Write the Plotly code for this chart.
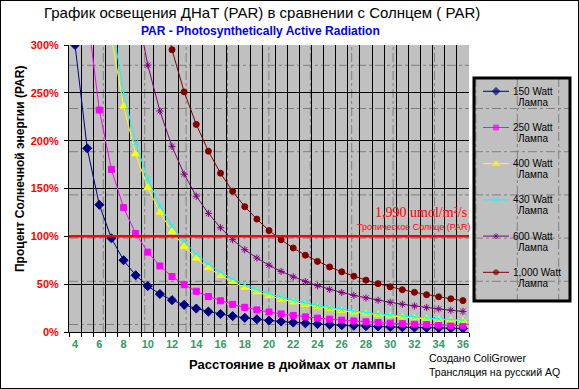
import plotly.graph_objects as go

# ---------------- data ----------------
DIST = list(range(4, 37))                      # inches from lamp
X_TICKS = list(range(4, 37, 2))
X_TICK_LABELS = [str(v) for v in X_TICKS]
Y_TICKS = [0, 50, 100, 150, 200, 250, 300]
Y_TICK_LABELS = [f"{v}%" for v in Y_TICKS]

P150 = [300, 192, 133, 98, 75, 59.3, 48, 39.7, 33.3, 28.4, 24.5, 21.3, 18.8, 16.6, 14.8, 13.3,
        12.0, 10.9, 9.9, 9.1, 8.3, 7.7, 7.1, 6.6, 6.1, 5.7, 5.3, 5.0, 4.7, 4.4, 4.2, 3.9, 3.7]
P250 = [None, 334, 232, 170, 130, 103, 83.5, 69, 58, 49.4, 42.6, 37.1, 32.6, 28.9, 25.8, 23.1,
        20.9, 18.9, 17.3, 15.8, 14.5, 13.4, 12.4, 11.5, 10.7, 9.9, 9.3, 8.7, 8.2, 7.7, 7.2, 6.8, 6.4]
P400 = [None, None, None, 308, 236, 186, 151, 125, 105, 89.3, 77, 67.1, 59, 52.2, 46.6, 41.8,
        37.8, 34.2, 31.2, 28.5, 26.2, 24.2, 22.3, 20.7, 19.3, 18, 16.8, 15.7, 14.7, 13.9, 13.1, 12.3, 11.7]
P430 = [None, None, None, 327, 250, 198, 160, 132, 111, 94.7, 81.6, 71.1, 62.5, 55.4, 49.4, 44.3,
        40, 36.3, 33.1, 30.2, 27.8, 25.6, 23.7, 21.9, 20.4, 19, 17.8, 16.6, 15.6, 14.7, 13.8, 13.1, 12.3]
P600 = [None, None, None, None, None, 344, 279, 231, 194, 165, 142, 124, 109, 96.5, 86.1, 77.3,
        69.8, 63.3, 57.6, 52.7, 48.4, 44.6, 41.3, 38.3, 35.6, 33.2, 31, 29, 27.2, 25.6, 24.1, 22.8, 21.5]
P1000 = [None, None, None, None, None, None, None, 351, 295, 251, 217, 189, 166, 147, 131, 118,
         106, 96.4, 87.8, 80.3, 73.8, 68, 62.9, 58.3, 54.2, 50.5, 47.2, 44.2, 41.5, 39, 36.8, 34.7, 32.8]

SERIES_NAMES = ["150 Watt", "250 Watt", "400 Watt", "430 Watt", "600 Watt", "1,000 Watt"]
SERIES_SUB = "Лампа"
SERIES_VALUES = [P150, P250, P400, P430, P600, P1000]
SUN_LEVEL = 100

# ---------------- styles ----------------
W, H = 579, 389
COLORS = ["#000080", "#FF00FF", "#FFFF00", "#00FFFF", "#800080", "#800000"]
SYMBOLS = ["diamond", "square", "triangle-up", "x-thin-open", "asterisk-open", "circle"]
SIZES = [7, 6, 7, 6, 6, 6]
SANS = "Liberation Sans, Arial, sans-serif"
SERIF = "Liberation Serif, Times New Roman, serif"
GRAY = "#C0C0C0"

# plot area in pixels
PL, PR, PT, PB = 69, 469, 45, 332
# legend box in pixels
LL, LR, LT, LB = 474, 570, 78, 301


def fx(px):
    return px / W


def fy(py):
    return 1 - py / H


fig = go.Figure()

for name, vals, col, sym, sz in zip(SERIES_NAMES, SERIES_VALUES, COLORS, SYMBOLS, SIZES):
    fig.add_trace(go.Scatter(
        x=DIST, y=vals, mode="lines+markers", name=name, showlegend=False,
        line=dict(color=col, width=1),
        marker=dict(symbol=sym, size=sz, color=col, line=dict(color=col, width=1)),
        xaxis="x", yaxis="y", cliponaxis=True,
    ))

# manual legend (pixel-unit subplot)
LEG_Y0, LEG_STEP = 91.3, 36.2
for i, (name, col, sym, sz) in enumerate(zip(SERIES_NAMES, COLORS, SYMBOLS, SIZES)):
    ly = LEG_Y0 + LEG_STEP * i
    fig.add_trace(go.Scatter(
        x=[483, 496, 509], y=[ly, ly, ly], mode="lines+markers", showlegend=False,
        line=dict(color=col, width=1),
        marker=dict(symbol=sym, size=[0, sz - 1, 0], color=col, line=dict(color=col, width=1)),
        xaxis="x2", yaxis="y2", hoverinfo="skip",
    ))

shapes = []
# dash-dot grid in plot area
dash_style = dict(color="#808080", width=1, dash="dashdot")
vx = 103.3
while vx < LR:
    if PL < vx < PR:
        shapes.append(dict(type="line", xref="x domain", yref="y domain",
                           x0=(vx - PL) / (PR - PL), x1=(vx - PL) / (PR - PL), y0=0, y1=1,
                           line=dash_style, layer="below"))
    if LL < vx < LR:
        shapes.append(dict(type="line", xref="x2", yref="y2", x0=vx, x1=vx, y0=LT, y1=LB,
                           line=dash_style, layer="below"))
    vx += 41.4
hy = 65.3
while hy < PB:
    shapes.append(dict(type="line", xref="x domain", yref="y domain", x0=0, x1=1,
                       y0=(PB - hy) / (PB - PT), y1=(PB - hy) / (PB - PT),
                       line=dash_style, layer="below"))
    if LT < hy < LB:
        shapes.append(dict(type="line", xref="x2", yref="y2", x0=LL, x1=LR, y0=hy, y1=hy,
                           line=dash_style, layer="below"))
    hy += 43.2

# sun reference line
shapes.append(dict(type="line", xref="x domain", yref="y", x0=0, x1=1, y0=SUN_LEVEL, y1=SUN_LEVEL,
                   line=dict(color="#FF0000", width=2.5), layer="above"))
# legend border
shapes.append(dict(type="rect", xref="x2 domain", yref="y2 domain", x0=0, x1=1, y0=0, y1=1,
                   line=dict(color="black", width=3), layer="above"))
# figure border
shapes.append(dict(type="rect", xref="paper", yref="paper", x0=0, x1=1, y0=0, y1=1,
                   line=dict(color="black", width=2), layer="above"))

annotations = [
    dict(text="График освещения ДНаТ (PAR) в сравнении с Солнцем ( PAR)", x=fx(262), y=fy(13),
         font=dict(family=SANS, size=15, color="black")),
    dict(text="<b>PAR - Photosynthetically Active Radiation</b>", x=fx(260), y=fy(31),
         font=dict(family=SANS, size=12, color="#0000FF")),
    dict(text="<b>Процент Солнечной энергии (PAR)</b>", x=fx(20), y=fy(169), textangle=-90,
         font=dict(family=SANS, size=12, color="black")),
    dict(text="<b>Расстояние в дюймах от лампы</b>", x=fx(292), y=fy(364),
         font=dict(family=SANS, size=13, color="black")),
    dict(text="1,990 umol/m²/s", x=fx(421), y=fy(212.5),
         font=dict(family=SERIF, size=14, color="#FF0000")),
    dict(text="Тропическое Солнце (PAR)", x=fx(414), y=fy(227),
         font=dict(family=SANS, size=9, color="#FF0000")),
    dict(text="Создано ColiGrower", x=fx(427), y=fy(358), xanchor="left",
         font=dict(family=SANS, size=10.5, color="black")),
    dict(text="Трансляция на русский AQ", x=fx(427), y=fy(372), xanchor="left",
         font=dict(family=SANS, size=10.5, color="black")),
]
for i, name in enumerate(SERIES_NAMES):
    ly = LEG_Y0 + LEG_STEP * i
    annotations.append(dict(text=name, x=fx(511), y=fy(ly), xanchor="left",
                            font=dict(family=SANS, size=10, color="black")))
    annotations.append(dict(text=SERIES_SUB, x=fx(533), y=fy(ly + 11), xanchor="center",
                            font=dict(family=SANS, size=10, color="black")))
for a in annotations:
    a.setdefault("xref", "paper")
    a.setdefault("yref", "paper")
    a.setdefault("showarrow", False)
    a.setdefault("xanchor", "center")
    a.setdefault("yanchor", "middle")

fig.update_layout(
    width=W, height=H, margin=dict(l=0, r=0, t=0, b=0),
    paper_bgcolor="white", plot_bgcolor=GRAY, showlegend=False,
    shapes=shapes, annotations=annotations,
    xaxis=dict(domain=[fx(PL), fx(PR)], range=[3.5, 36.5], anchor="y",
               tickvals=X_TICKS, ticktext=X_TICK_LABELS,
               tickfont=dict(family=SANS, size=11, color="#339966", weight="bold"),
               ticks="", ticklabelstandoff=2,
               showgrid=False, zeroline=False, showline=True, linecolor="black", linewidth=1,
               minor=dict(tick0=3.5, dtick=1, showgrid=True, gridcolor="black", gridwidth=1,
                          ticks="outside", ticklen=4, tickcolor="black"),
               automargin=False, fixedrange=True),
    yaxis=dict(domain=[fy(PB), fy(PT)], range=[0, 300], anchor="x",
               tickvals=Y_TICKS, ticktext=Y_TICK_LABELS,
               tickfont=dict(family=SANS, size=11, color="#FF0000", weight="bold"),
               ticks="outside", ticklen=4, tickcolor="black", ticklabelstandoff=3,
               showgrid=True, gridcolor="black", gridwidth=1,
               zeroline=False, showline=True, linecolor="black", linewidth=1,
               automargin=False, fixedrange=True),
    xaxis2=dict(domain=[fx(LL), fx(LR)], range=[LL, LR], anchor="y2", visible=False,
                showgrid=False, zeroline=False, fixedrange=True),
    yaxis2=dict(domain=[fy(LB), fy(LT)], range=[LB, LT], anchor="x2", visible=False,
                showgrid=False, zeroline=False, fixedrange=True),
)

fig.write_html("out.html", config={"displayModeBar": False},
               post_script="document.body.style.margin='0';")
